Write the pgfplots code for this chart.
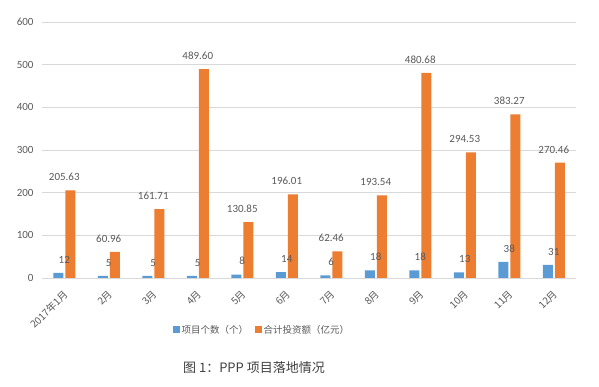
\documentclass[border=0pt]{standalone}
\usepackage{fontspec}
\setmainfont{Carlito}
\newfontfamily\cjk{Noto Sans CJK SC}
\usepackage{pgfplots}
\pgfplotsset{compat=1.18}
\definecolor{xblue}{HTML}{5B9BD5}
\definecolor{xorange}{HTML}{ED7D31}
\definecolor{gridgray}{HTML}{D9D9D9}
\definecolor{txtgray}{HTML}{595959}
\definecolor{capgray}{HTML}{404040}
\begin{document}
\begin{tikzpicture}
\useasboundingbox (0,0) rectangle (599bp,387bp);
\begin{axis}[
  at={(42bp,109bp)}, anchor=south west,
  scale only axis, width=534bp, height=256bp,
  xmin=-0.5, xmax=11.5, ymin=0, ymax=600,
  ytick={0,100,...,600},
  xtick={0,...,11},
  xticklabels={{2017年1月},2月,3月,4月,5月,6月,7月,8月,9月,10月,11月,12月},
  /pgf/number format/assume math mode=true,
  ymajorgrids, grid style={draw=gridgray, line width=0.8bp},
  axis x line*=bottom, axis y line*=left,
  x axis line style={draw=gridgray, line width=0.8bp, -},
  y axis line style={draw=none},
  tick style={draw=none},
  yticklabel style={font=\fontsize{11bp}{13bp}\selectfont, text=txtgray, xshift=-5bp},
  xticklabel style={font=\cjk\fontsize{10bp}{12bp}\selectfont, text=txtgray, xshift=4bp, yshift=-12bp, rotate=45, anchor=east},
  every node near coord/.append style={font=\fontsize{11bp}{13bp}\selectfont, text=txtgray, yshift=6bp},
  legend style={draw=none, fill=none, at={(0.412,-0.203)}, anchor=center,
    legend columns=2, font=\cjk\fontsize{9.5bp}{12bp}\selectfont, text=txtgray,
    /tikz/every even column/.append style={column sep=5bp}},
]
\addplot[ybar, bar width=10bp, bar shift=-6bp, fill=xblue, draw=none,
  nodes near coords,
  legend image code/.code={\fill[xblue] (0bp,-3bp) rectangle (6.5bp,3.5bp);}]
  coordinates {(0,12) (1,5) (2,5) (3,5) (4,8) (5,14) (6,6) (7,18) (8,18) (9,13) (10,38) (11,31)};
\addlegendentry{项目个数（个）}
\addplot[ybar, bar width=10bp, bar shift=6bp, fill=xorange, draw=none,
  nodes near coords={\pgfmathprintnumber[fixed,fixed zerofill,precision=2]{\pgfplotspointmeta}},
  legend image code/.code={\fill[xorange] (0bp,-3bp) rectangle (6.5bp,3.5bp);}]
  coordinates {(0,205.63) (1,60.96) (2,161.71) (3,489.60) (4,130.85) (5,196.01) (6,62.46) (7,193.54) (8,480.68) (9,294.53) (10,383.27) (11,270.46)};
\addlegendentry{合计投资额（亿元）}
\end{axis}
\node[font=\cjk\fontsize{13bp}{15bp}\selectfont, text=capgray] at (254bp,19bp) {图 1：PPP 项目落地情况};
\end{tikzpicture}
\end{document}
